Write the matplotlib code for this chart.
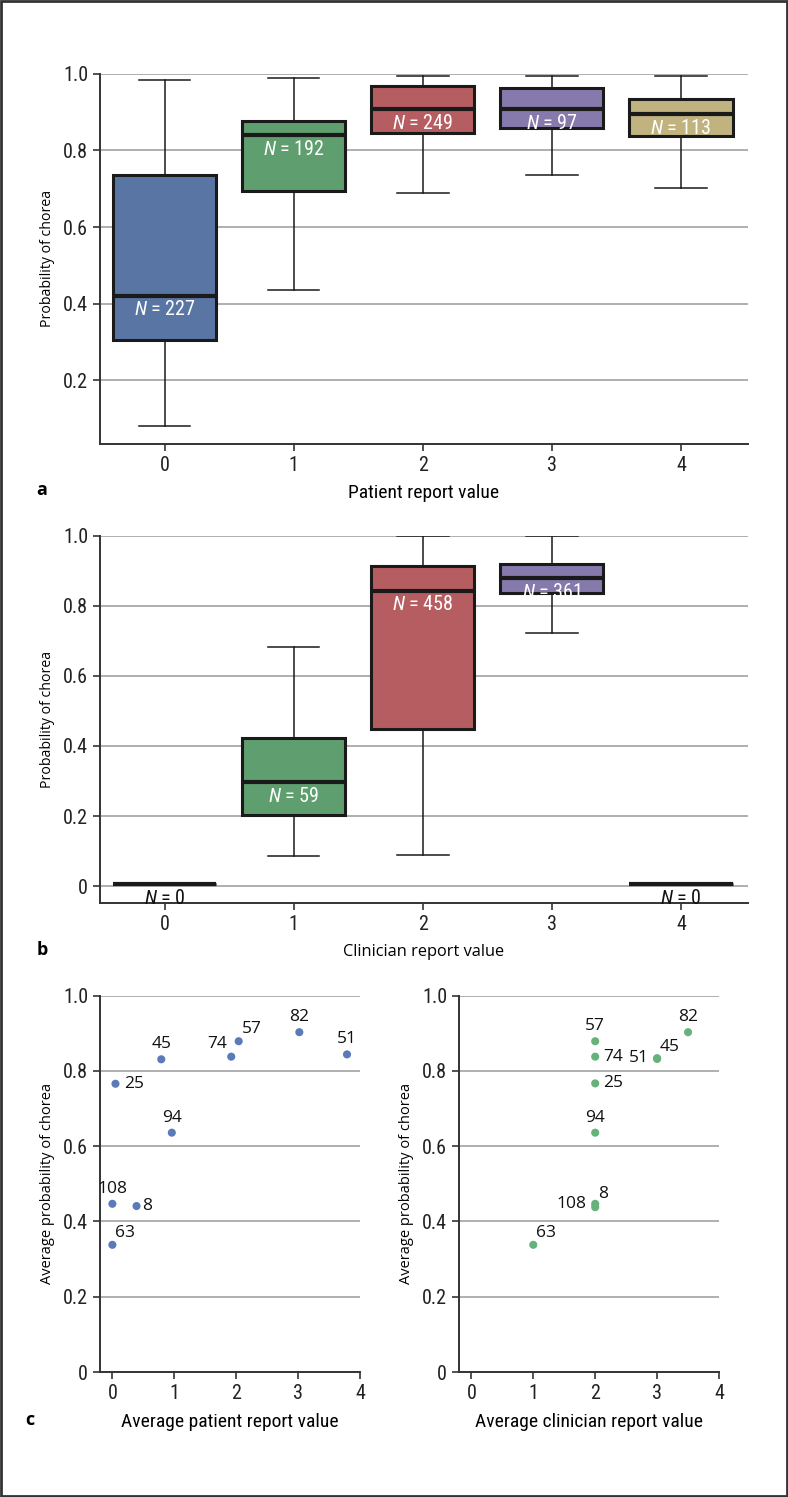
import matplotlib
matplotlib.use("Agg")
import matplotlib.pyplot as plt
from matplotlib import font_manager
from matplotlib.patches import Rectangle

# ---------------- data ----------------
categories = [0, 1, 2, 3, 4]

# panel a: patient report value
a_whislo = [0.082, 0.437, 0.688, 0.736, 0.702]
a_q1     = [0.305, 0.695, 0.846, 0.859, 0.838]
a_med    = [0.420, 0.839, 0.907, 0.907, 0.894]
a_q3     = [0.737, 0.877, 0.969, 0.962, 0.933]
a_whishi = [0.983, 0.990, 0.995, 0.995, 0.995]
a_n      = [227, 192, 249, 97, 113]

# panel b: clinician report value
b_whislo = [0.005, 0.087, 0.088, 0.723, 0.005]
b_q1     = [0.005, 0.204, 0.449, 0.836, 0.005]
b_med    = [0.005, 0.296, 0.843, 0.878, 0.005]
b_q3     = [0.005, 0.424, 0.914, 0.918, 0.005]
b_whishi = [0.005, 0.683, 1.000, 1.000, 0.005]
b_n      = [0, 59, 458, 361, 0]

# panel c
c_labels      = [25, 45, 74, 57, 82, 51, 94, 108, 8, 63]
c_patient_x   = [0.05, 0.79, 1.92, 2.04, 3.02, 3.79, 0.96, 0.0, 0.39, 0.0]
c_patient_y   = [0.766, 0.831, 0.838, 0.879, 0.903, 0.844, 0.636, 0.447, 0.441, 0.338]
c_clinician_x = [2.0, 3.0, 2.0, 2.0, 3.5, 3.0, 2.0, 2.0, 2.0, 1.0]
c_clinician_y = [0.767, 0.832, 0.838, 0.879, 0.903, 0.834, 0.636, 0.447, 0.438, 0.338]

box_colors = ["#5975A4", "#5F9E6E", "#B55D60", "#857AAB", "#C1B37F"]

# ---------------- fonts ----------------
available = {f.name for f in font_manager.fontManager.ttflist}
def pick(*names):
    for n in names:
        if n in available:
            return n
    return "DejaVu Sans"

cond = pick("Liberation Sans Narrow", "Roboto Condensed", "Open Sans Condensed", "Open Sans")
reg = pick("Open Sans", "Noto Sans", "DejaVu Sans")
plt.rcParams["font.family"] = [reg, "DejaVu Sans"]
plt.rcParams["mathtext.fontset"] = "custom"
plt.rcParams["mathtext.it"] = cond + ":italic"
plt.rcParams["mathtext.rm"] = cond

W, H = 788, 1497
fig = plt.figure(figsize=(W / 100, H / 100), dpi=100)

def axes_px(left, top, right, bottom):
    return fig.add_axes([left / W, 1 - bottom / H, (right - left) / W, (bottom - top) / H])

spine_c = "#333333"
grid_c = "#9a9a9a"
TICK_FS = 14.5

def style(ax):
    for s in ["top", "right"]:
        ax.spines[s].set_visible(False)
    for s in ["left", "bottom"]:
        ax.spines[s].set_color(spine_c)
        ax.spines[s].set_linewidth(1.4)
    ax.tick_params(axis="both", colors=spine_c, width=1.2, length=5,
                   labelsize=TICK_FS, labelcolor="#222222")
    for lab in ax.get_xticklabels() + ax.get_yticklabels():
        lab.set_fontfamily([cond, "DejaVu Sans"])
    ax.yaxis.grid(True, color=grid_c, linewidth=1.1)
    ax.set_axisbelow(True)

def boxpanel(ax, whislo, q1, med, q3, whishi, ns, xlabel, ylim, yticks, yticklabels):
    stats = []
    for i in range(len(categories)):
        stats.append(dict(med=med[i], q1=q1[i], q3=q3[i], whislo=whislo[i],
                          whishi=whishi[i], fliers=[]))
    bp = ax.bxp(stats, positions=categories, widths=0.8, patch_artist=True,
                showfliers=False,
                boxprops=dict(linewidth=2.2, edgecolor="#1a1a1a"),
                medianprops=dict(color="#1a1a1a", linewidth=3.0),
                whiskerprops=dict(color="#1a1a1a", linewidth=1.1),
                capprops=dict(color="#1a1a1a", linewidth=1.1))
    for patch, c in zip(bp["boxes"], box_colors):
        patch.set_facecolor(c)
    for x, m, n in zip(categories, med, ns):
        col = "white" if n > 0 else "#111111"
        ax.annotate(r"$N$ = %d" % n, xy=(x, m), xytext=(0, -3), textcoords="offset points",
                    ha="center", va="top", fontsize=14.5, color=col, family=[cond, "DejaVu Sans"])
    ax.set_xlim(-0.5, 4.52)
    ax.set_ylim(*ylim)
    ax.set_xticks(categories)
    ax.set_xticklabels([str(c) for c in categories])
    ax.set_yticks(yticks)
    ax.set_yticklabels(yticklabels)
    style(ax)
    ax.set_ylabel("Probability of chorea", fontsize=10.2, labelpad=6)
    ax.set_xlabel(xlabel, fontsize=14, labelpad=7, family=[cond, "DejaVu Sans"])

# panel a
ax_a = axes_px(100, 73.7, 748, 443.7)
boxpanel(ax_a, a_whislo, a_q1, a_med, a_q3, a_whishi, a_n, "Patient report value",
         (0.035, 1.0), [0.2, 0.4, 0.6, 0.8, 1.0], ["0.2", "0.4", "0.6", "0.8", "1.0"])

# panel b
ax_b = axes_px(100, 535.7, 748, 903)
boxpanel(ax_b, b_whislo, b_q1, b_med, b_q3, b_whishi, b_n, "Clinician report value",
         (-0.048, 1.0), [0, 0.2, 0.4, 0.6, 0.8, 1.0], ["0", "0.2", "0.4", "0.6", "0.8", "1.0"])
ax_b.xaxis.label.set_fontfamily([reg, "DejaVu Sans"])
ax_b.xaxis.label.set_fontsize(11.8)

# panel c
offsets_left = {25: (6, 0, "left", "center"), 45: (0, 5, "center", "bottom"),
                74: (-3, 3, "right", "bottom"), 57: (2, 3, "left", "bottom"),
                82: (0, 5, "center", "bottom"), 51: (0, 5, "center", "bottom"),
                94: (0, 5, "center", "bottom"), 108: (0, 5, "center", "bottom"),
                8: (4, 0, "left", "center"), 63: (2, 3, "left", "bottom")}
offsets_right = {25: (6, 0, "left", "center"), 45: (2, 3, "left", "bottom"),
                 74: (6, 0, "left", "center"), 57: (0, 5, "center", "bottom"),
                 82: (0, 5, "center", "bottom"), 51: (-6, 0, "right", "center"),
                 94: (0, 5, "center", "bottom"), 108: (-6, 0, "right", "center"),
                 8: (2, 4, "left", "bottom"), 63: (2, 3, "left", "bottom")}

def scatterpanel(ax, xs, ys, color, offsets, xlabel):
    ax.scatter(xs, ys, s=34, color=color, edgecolors="none", zorder=3)
    for lab, x, y in zip(c_labels, xs, ys):
        dx, dy, ha, va = offsets[lab]
        ax.annotate(str(lab), xy=(x, y), xytext=(dx, dy), textcoords="offset points",
                    ha=ha, va=va, fontsize=12.5, color="#111111")
    ax.set_xlim(-0.2, 4.0)
    ax.set_ylim(0, 1.0)
    ax.set_xticks(categories)
    ax.set_yticks([0, 0.2, 0.4, 0.6, 0.8, 1.0])
    ax.set_yticklabels(["0", "0.2", "0.4", "0.6", "0.8", "1.0"])
    style(ax)
    ax.set_ylabel("Average probability of chorea", fontsize=10.5, labelpad=6)
    ax.set_xlabel(xlabel, fontsize=14, labelpad=7, family=[cond, "DejaVu Sans"])

ax_c1 = axes_px(100, 995.7, 360, 1372)
scatterpanel(ax_c1, c_patient_x, c_patient_y, "#5B7AB8", offsets_left, "Average patient report value")
ax_c2 = axes_px(459, 995.7, 719, 1372)
scatterpanel(ax_c2, c_clinician_x, c_clinician_y, "#67B27B", offsets_right, "Average clinician report value")

# panel letters
for letter, x, y in [("a", 42, 490), ("b", 42, 950), ("c", 30, 1420)]:
    fig.text(x / W, 1 - y / H, letter, fontsize=13, fontweight="bold", ha="center", va="center")

# figure border
fig.patches.append(Rectangle((0.0015, 0.001), 0.997, 0.998, transform=fig.transFigure,
                             fill=False, edgecolor="#333333", linewidth=2.0))

fig.savefig("out.png", dpi=100)
